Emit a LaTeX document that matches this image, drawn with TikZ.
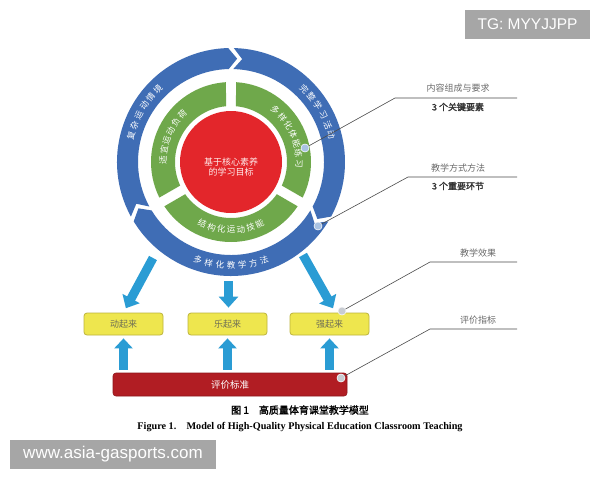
\documentclass[tikz,border=0pt]{standalone}
\usepackage{fontspec}
\setmainfont{Liberation Serif}
\newfontfamily\cjk{Noto Sans CJK SC}
\newfontfamily\cjkb[FakeBold=1.6]{Noto Sans CJK SC}
\newfontfamily\sansen{Liberation Sans}
\usetikzlibrary{arrows.meta}
\definecolor{ringblue}{HTML}{3F6DB5}
\definecolor{ringgreen}{HTML}{6FA84B}
\definecolor{corered}{HTML}{E3262B}
\definecolor{arrblue}{HTML}{2A9CD4}
\definecolor{boxyellow}{HTML}{EEE64E}
\definecolor{boxedge}{HTML}{BDB43C}
\definecolor{barred}{HTML}{B11D23}
\definecolor{lblgray}{HTML}{6A6A6A}
\definecolor{wmgray}{HTML}{A6A6A6}
\definecolor{dotblue}{HTML}{A9C3E3}
\definecolor{dotgray}{HTML}{C8CCD2}
\newcommand\myfs[1]{\fontsize{#1}{#1}\selectfont}
% #1 prefix, #2 radius, #3 centre angle, #4 step, #5 count, #6 rotation offset, #7 chars
\newcommand\arctext[7]{%
  \foreach \ch [count=\k from 0] in {#7}{%
    \pgfmathsetmacro\ang{#3+(\k-(#5-1)/2)*(#4)}%
    \pgfmathsetmacro\rot{\ang+#6}%
    \node[ringtxt, rotate=\rot] (#1\k) at (\ang:#2) {\ch};}}
% blue arrow segment: #1 ccw boundary, #2 cw boundary
\newcommand\blueseg[2]{%
  \fill[ringblue] (#1-1.4:114) arc[start angle=#1-1.4, end angle=#2+1.4, radius=114]
    -- (#2+1.4-4.8:103.5) -- (#2+1.4:93)
    arc[start angle=#2+1.4, end angle=#1-1.4, radius=93]
    -- (#1-1.4-4.8:103.5) -- cycle;}
\newcommand\greenseg[2]{%
  \fill[ringgreen] (#1-3.6:80) arc[start angle=#1-3.6, end angle=#2+3.6, radius=80]
    -- (#2+5.1:56) arc[start angle=#2+5.1, end angle=#1-5.1, radius=56] -- cycle;}
\begin{document}
\begin{tikzpicture}[x=1pt,y=1pt,
  ringtxt/.style={font=\cjk\myfs{8.5}, text=white, inner sep=0pt},
  downarr/.style={draw=arrblue, line width=9pt, -{Triangle[width=19pt,length=11pt]}, shorten >=5pt},
  uparr/.style={draw=arrblue, line width=9pt, -{Triangle[width=18pt,length=10pt]}, shorten >=3pt, shorten <=3pt},
  ybox/.style={draw=boxedge, line width=0.8pt, fill=boxyellow, rounded corners=3pt,
    minimum width=79pt, minimum height=22pt, font=\cjk\myfs{9}, text=lblgray!80!olive},
  redbar/.style={draw=barred!80!black, line width=0.6pt, fill=barred, rounded corners=3pt,
    minimum width=234pt, minimum height=23pt, font=\cjk\myfs{9.5}, text=white},
  lead/.style={draw=black!70, line width=0.6pt},
  dotb/.style={circle, fill=dotblue, draw=white, line width=0.4pt, inner sep=0pt, minimum size=8pt},
  dotg/.style={circle, fill=dotgray, draw=white, line width=0.4pt, inner sep=0pt, minimum size=8pt},
  toplbl/.style={font=\cjk\myfs{9}, text=lblgray, inner sep=0pt},
  botlbl/.style={font=\cjkb\myfs{9}, text=black!80, inner sep=0pt},
  wm/.style={fill=wmgray, text=white, inner sep=0pt}]
\useasboundingbox (0,0) rectangle (600,-480);
\fill[white] (0,0) rectangle (600,-480);

% boxes
\node[ybox] (b1) at (123.5,-324) {动起来};
\node[ybox] (b2) at (227.5,-324) {乐起来};
\node[ybox] (b3) at (329.5,-324) {强起来};
\node[redbar] (bar) at (230,-384.5) {评价标准};

% arrows from ring to boxes (drawn under the ring)
\coordinate (sL) at (153,-258);
\coordinate (sM) at (228.5,-281);
\coordinate (sR) at (303,-255);
\draw[downarr] (sL) -- (b1.north);
\draw[downarr] (sM) -- (b2.north -| sM);
\draw[downarr] (sR) -- ([xshift=6pt]b3.north);

% arrows from bar to boxes
\draw[uparr] (bar.north -| b1) -- (b1.south);
\draw[uparr] (bar.north -| b2) -- (b2.south);
\draw[uparr] (bar.north -| b3) -- (b3.south);

% ring
\begin{scope}[shift={(231,-162)}]
  \blueseg{210}{90}
  \blueseg{90}{-30}
  \blueseg{330}{210}
  \greenseg{210}{90}
  \greenseg{90}{-30}
  \greenseg{330}{210}
  \fill[corered] (0,0) circle (51);
  \node[font=\cjk\myfs{9}, text=white!92!red, align=center, inner sep=0pt] (core) at (0,-5.5)
    {基于核心素养\\[1pt]的学习目标};
  \arctext{oa}{103.5}{150}{-6}{6}{-90}{复,杂,运,动,情,境}
  \arctext{ob}{103.5}{30}{-6}{6}{-90}{完,整,学,习,活,动}
  \arctext{oc}{103.5}{270}{6.2}{7}{90}{多,样,化,教,学,方,法}
  \arctext{ga}{68}{157}{-8.5}{6}{-90}{适,宜,运,动,负,荷}
  \arctext{gb}{68}{24}{-8.5}{7}{-90}{多,样,化,体,能,练,习}
  \arctext{gc}{68}{270}{8.3}{7}{90}{结,构,化,运,动,技,能}
\end{scope}

% callouts
\coordinate (e1) at (395,-98);  \coordinate (f1) at (517,-98);
\coordinate (e2) at (408,-177); \coordinate (f2) at (517,-177);
\coordinate (e3) at (430,-262); \coordinate (f3) at (517,-262);
\coordinate (e4) at (430,-329); \coordinate (f4) at (517,-329);
\node[dotb] (d1) at (305,-148) {};
\node[dotb] (d2) at (318,-226) {};
\node[dotg] (d3) at (342,-311) {};
\node[dotg] (d4) at (341,-378) {};
\draw[lead] (d1.center) -- (e1) -- (f1);
\draw[lead] (d2.center) -- (e2) -- (f2);
\draw[lead] (d3.center) -- (e3) -- (f3);
\draw[lead] (d4.center) -- (e4) -- (f4);
\node[dotb] at (d1) {};
\node[dotb] at (d2) {};
\node[dotg] at (d3) {};
\node[dotg] at (d4) {};

\node[toplbl] (l1a) at (458,-88) {内容组成与要求};
\node[botlbl] (l1b) at (458,-107) {3 个关键要素};
\node[toplbl] (l2a) at (458,-168) {教学方式方法};
\node[botlbl] (l2b) at (458,-186) {3 个重要环节};
\node[toplbl] (l3a) at (478,-253) {教学效果};
\node[toplbl] (l4a) at (478,-320) {评价指标};

% captions
\node[font=\cjkb\myfs{10}, inner sep=0pt] (capzh) at (300,-410) {图 1\quad 高质量体育课堂教学模型};
\node[font=\bfseries\myfs{10.2}, inner sep=0pt] (capen) at (300,-427)
  {Figure 1.\quad Model of High-Quality Physical Education Classroom Teaching};

% watermarks
\node[wm, minimum width=125pt, minimum height=29pt, font=\sansen\myfs{15.5}] (wm1) at (527.5,-24.5) {TG: MYYJJPP};
\node[wm, minimum width=206pt, minimum height=29pt, font=\sansen\myfs{17}] (wm2) at (113,-454.5) {www.asia-gasports.com};
\end{tikzpicture}
\end{document}
